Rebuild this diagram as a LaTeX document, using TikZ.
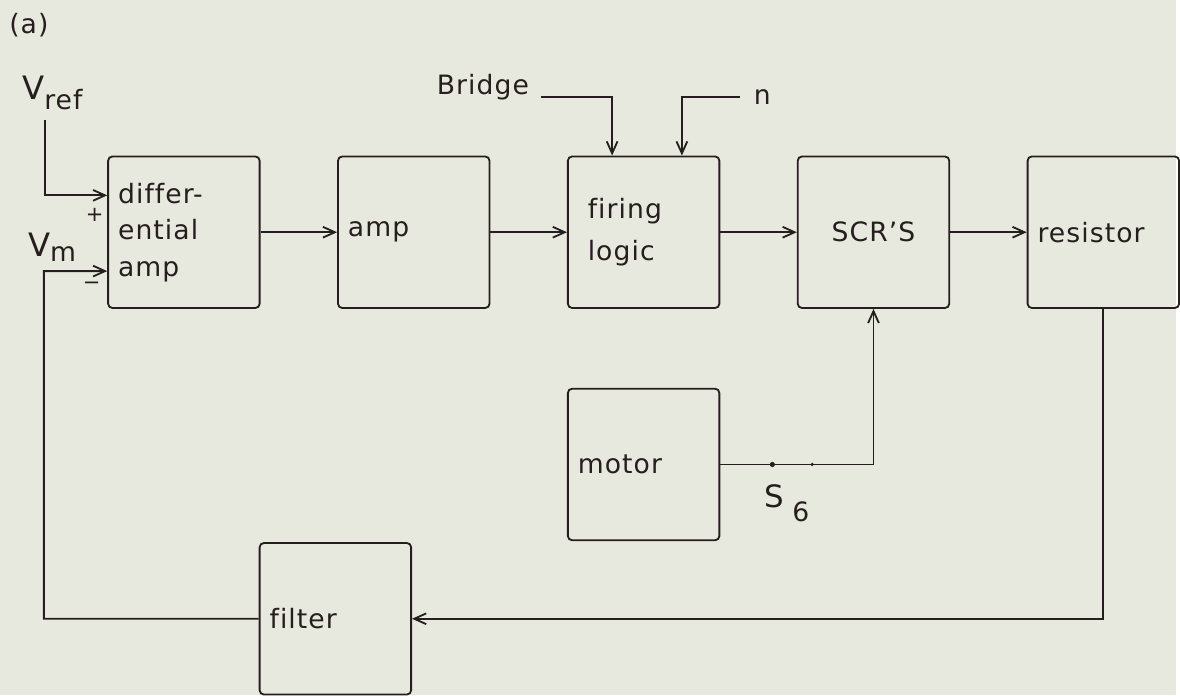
\documentclass[tikz,border=0pt]{standalone}
\usepackage{fontspec}
\setmainfont{DejaVu Sans}[LetterSpace=4, Ligatures=CommonOff]
\usepackage{tikz}
\usetikzlibrary{arrows.meta,positioning}
\definecolor{paper}{RGB}{232,233,222}
\definecolor{ink}{RGB}{38,30,30}

\begin{document}
\begin{tikzpicture}[
    node distance=1.92cm,
    block/.style={draw=ink, rounded corners=3pt, line width=1.3pt, minimum width=3.8cm, minimum height=3.8cm, text width=3.3cm, inner xsep=0.25cm, align=left, font=\fontsize{19}{26}\selectfont, text=ink},
    lbl/.style={font=\fontsize{19}{23}\selectfont, text=ink, inner sep=0pt},
    sign/.style={font=\fontsize{15}{17}\selectfont, text=ink, inner sep=0pt},
    arrow/.style={-{Straight Barb[length=0.3cm, width=0.27cm]}, line width=1.3pt, draw=ink},
    dot/.style={circle, fill=ink, inner sep=0pt, minimum size=0.13cm}
  ]

  % Paper
  \fill[paper] (0,0) rectangle (29.5,-17.425);
  \node[lbl] (tag) at (0.725,-0.625) {(a)};

  % Forward chain
  \node[block] (diff) at (4.6125,-5.825) {differ-\\ential\\amp};
  \node[block, right=of diff] (amp) {amp};
  \node[block, right=of amp] (flogic) {\hspace*{0.25cm}firing\\[4pt]\hspace*{0.25cm}logic};
  \node[block, right=of flogic, align=center] (scr) {SCR’S};
  \node[block, right=of scr] (res) {resistor};

  % Motor and filter
  \node[block, below=1.98cm of flogic] (motor) {motor};
  \node[block, below=5.85cm of diff, xshift=3.8cm] (filt) {filter};

  % Inputs
  \node[lbl, anchor=base west] (vref) at (0.55,-2.5) {{\fontsize{23}{26}\selectfont V}\raisebox{-0.25cm}{ref}};
  \node[lbl, anchor=base west] (vm) at (0.7,-6.425) {{\fontsize{23}{26}\selectfont V}\raisebox{-0.125cm}{m}};
  \node[sign] (plus) at (2.375,-5.4) {+};
  \node[sign] (minus) at (2.3,-7.17) {−};
  \node[lbl, anchor=base east] (bridge) at (13.275,-2.375) {Bridge};
  \node[lbl, anchor=base west] (nin) at (18.9,-2.625) {n};
  \node[lbl, anchor=base west] (s6) at (19.175,-12.725) {{\fontsize{22}{26}\selectfont S}\hspace{0.2cm}\raisebox{-0.35cm}{6}};

  \coordinate (vreftop) at (1.125,-3.0);
  \coordinate (vrefin) at ([yshift=0.925cm]diff.west);
  \coordinate (vmin) at ([yshift=-0.975cm]diff.west);
  \coordinate (vmleft) at (1.1,-6.8);

  % Arrows: inputs
  \draw[arrow] (vreftop) |- (vrefin);
  \draw[arrow] ([shift={(0.3cm,-0.05cm)}]bridge.base east) -| ([xshift=-0.79cm]flogic.north);
  \draw[arrow] ([shift={(-0.35cm,0.2cm)}]nin.base west) -| ([xshift=0.96cm]flogic.north);

  % Arrows: forward chain
  \draw[arrow] (diff) -- (amp);
  \draw[arrow] (amp) -- (flogic);
  \draw[arrow] (flogic) -- (scr);
  \draw[arrow] (scr) -- (res);

  % Arrows: motor -> SCR's via switch
  \draw[arrow] (motor.east) -| (scr.south) node[dot, pos=0.17] {} node[dot, pos=0.3, minimum size=0.09cm] {};

  % Arrows: feedback
  \draw[arrow] (res.south) |- (filt.east);
  \draw[arrow] (filt.west) -| (vmleft) -- (vmin);

\end{tikzpicture}
\end{document}
